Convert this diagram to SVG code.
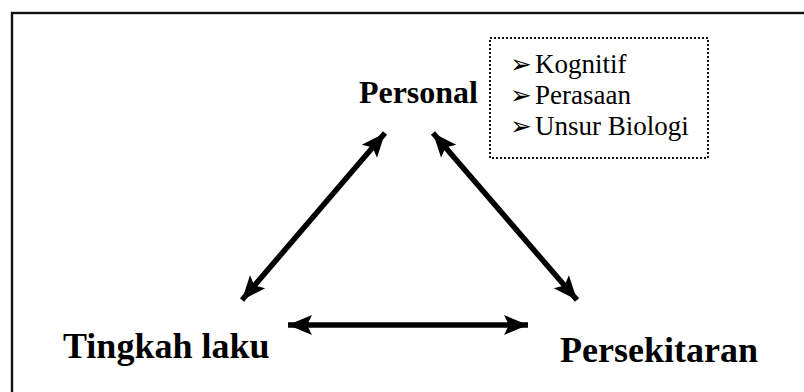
<svg xmlns="http://www.w3.org/2000/svg" width="804" height="392" viewBox="0 0 804 392">
  <style>
    .frame { fill: none; stroke: #111; stroke-width: 2.4; }
    .note { fill: none; stroke: #111; stroke-width: 2; stroke-dasharray: 2 2; }
    .link { stroke: #000; stroke-width: 5.5; fill: none; marker-start: url(#head); marker-end: url(#head); }
    .title { font-family: "Liberation Serif", "Times New Roman", serif; font-weight: bold; fill: #000; }
    .item { font-family: "Liberation Serif", "Times New Roman", serif; font-size: 27px; fill: #000; }
    .bullet { font-family: "DejaVu Sans", sans-serif; font-size: 26px; }
  </style>
  <defs>
    <marker id="head" markerUnits="userSpaceOnUse" viewBox="-26 -12 28 24" refX="0" refY="0" markerWidth="28" markerHeight="24" orient="auto-start-reverse">
      <path d="M0,0 L-24,-10 L-19,0 L-24,10 Z" fill="#000"/>
    </marker>
  </defs>

  <rect class="frame" x="12" y="13" width="820" height="400"/>

  <g id="connectors">
    <line class="link" x1="242" y1="300" x2="385" y2="133"/>
    <line class="link" x1="433" y1="133" x2="577" y2="300"/>
    <line class="link" x1="288" y1="325" x2="528" y2="325"/>
  </g>

  <g id="personal">
    <text class="title" x="478" y="103" font-size="32" text-anchor="end">Personal</text>
  </g>

  <g id="personal-factors">
    <rect class="note" x="490" y="38" width="218" height="120"/>
    <text class="item" x="510" y="73"><tspan class="bullet">➢</tspan><tspan x="535">Kognitif</tspan></text>
    <text class="item" x="510" y="104"><tspan class="bullet">➢</tspan><tspan x="535">Perasaan</tspan></text>
    <text class="item" x="510" y="135"><tspan class="bullet">➢</tspan><tspan x="535">Unsur Biologi</tspan></text>
  </g>

  <g id="tingkah-laku">
    <text class="title" x="63" y="358" font-size="36">Tingkah laku</text>
  </g>

  <g id="persekitaran">
    <text class="title" x="560" y="362" font-size="36">Persekitaran</text>
  </g>
</svg>
